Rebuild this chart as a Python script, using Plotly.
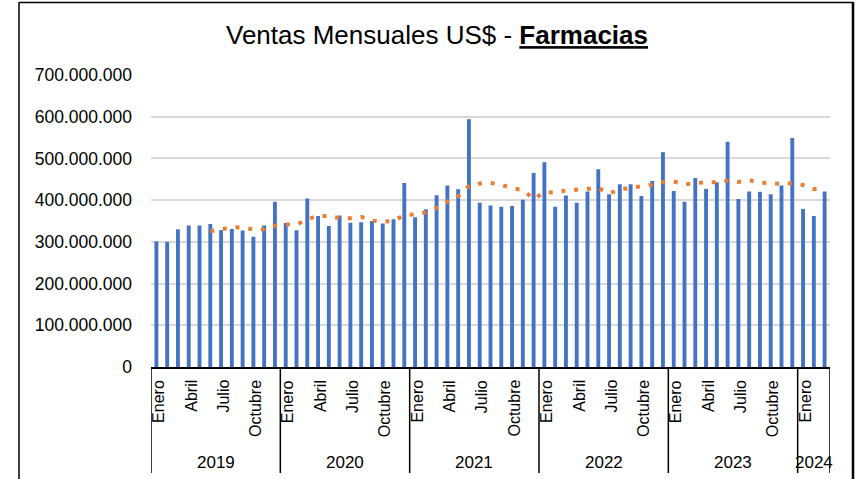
import numpy as np
import plotly.graph_objects as go

# ---- data (millions of US$) ----
years = ["2019", "2020", "2021", "2022", "2023", "2024"]
months_per_year = [12, 12, 12, 12, 12, 3]
month_labels = {0: "Enero", 3: "Abril", 6: "Julio", 9: "Octubre"}
ventas_2019 = [301, 300, 330, 339, 339, 343, 328, 331, 327, 312, 339, 396]
ventas_2020 = [345, 328, 404, 362, 338, 363, 346, 347, 350, 344, 354, 441]
ventas_2021 = [359, 378, 412, 435, 426, 594, 394, 387, 384, 386, 401, 465]
ventas_2022 = [491, 384, 411, 394, 421, 474, 414, 438, 438, 410, 446, 515]
ventas_2023 = [422, 396, 453, 427, 443, 540, 403, 421, 420, 414, 435, 549]
ventas_2024 = [379, 362, 421]
ma_period = 6

ventas = np.array(ventas_2019 + ventas_2020 + ventas_2021 + ventas_2022 + ventas_2023 + ventas_2024) * 1e6
idx = np.arange(len(ventas))
ma = np.full(len(ventas), np.nan)
for i in range(ma_period - 1, len(ventas)):
    ma[i] = ventas[i - ma_period + 1:i + 1].mean()

# plot geometry (page pixels)
W, H = 860, 479
L, R = 151, 830
T, B = 75, 367
ph = B - T
pw = R - L

def py(p):
    return (B - p) / ph

def px(p):
    return (p - L) / pw

fig = go.Figure()
fig.add_trace(go.Bar(x=idx, y=ventas, width=0.36, marker=dict(color="#4472C4", line=dict(width=0)),
                     showlegend=False))
fig.add_trace(go.Scatter(x=idx, y=ma, mode="lines", line=dict(color="#ED7D31", width=4, dash="4px,8.8px"),
                         showlegend=False))

annotations = []
shapes = []
start = 0
for y, n in zip(years, months_per_year):
    for m, lab in month_labels.items():
        if m < n:
            annotations.append(dict(x=start + m, y=py(378), xref="x", yref="paper", text=lab,
                                    textangle=-90, showarrow=False, xanchor="center", yanchor="top",
                                    xshift=2, font=dict(family="Liberation Sans", size=16, color="black")))
    annotations.append(dict(x=start - 0.5 + n / 2, y=py(462), xref="x", yref="paper", text=y,
                            showarrow=False, xanchor="center", yanchor="middle",
                            font=dict(family="Liberation Sans", size=17, color="black")))
    shapes.append(dict(type="line", xref="x", yref="paper", x0=start - 0.5, x1=start - 0.5,
                       y0=0, y1=py(473), line=dict(color="black", width=1.5)))
    start += n
shapes.append(dict(type="line", xref="x", yref="paper", x0=start - 0.5, x1=start - 0.5,
                   y0=0, y1=py(473), line=dict(color="black", width=1.5)))
# outer chart border
shapes.append(dict(type="line", xref="paper", yref="paper", x0=px(19), x1=px(853), y0=py(2.5), y1=py(2.5),
                   line=dict(color="black", width=1.5), layer="above"))
shapes.append(dict(type="line", xref="paper", yref="paper", x0=px(19), x1=px(19), y0=py(2), y1=py(490),
                   line=dict(color="black", width=1.5), layer="above"))
shapes.append(dict(type="line", xref="paper", yref="paper", x0=px(853), x1=px(853), y0=py(2), y1=py(490),
                   line=dict(color="black", width=2.5), layer="above"))

fig.update_layout(
    width=W, height=H,
    margin=dict(l=L, r=W - R, t=T, b=H - B),
    paper_bgcolor="white", plot_bgcolor="white",
    separators=",.",
    bargap=0.6,
    title=dict(text="Ventas Mensuales US$ - <b><u>Farmacias</u></b>", x=437 / W, xref="container",
               xanchor="center", y=1 - 35 / H, yref="container", yanchor="middle",
               font=dict(family="Liberation Sans", size=26, color="black")),
    xaxis=dict(range=[-0.5, len(ventas) - 0.5], showticklabels=False, ticks="", showgrid=False,
               zeroline=False, showline=True, linecolor="black", linewidth=1.5),
    yaxis=dict(range=[0, 700e6], tickvals=[i * 100e6 for i in range(8)], tickformat=",.0f",
               showgrid=True, gridcolor="#D9D9D9", gridwidth=1.5, zeroline=False, ticks="",
               ticklabelstandoff=18,
               tickfont=dict(family="Liberation Sans", size=17.5, color="black")),
    annotations=annotations,
    shapes=shapes,
)

fig.write_html("out.html", config={"displayModeBar": False},
               post_script="document.body.style.margin='0';document.body.style.overflow='hidden';")
